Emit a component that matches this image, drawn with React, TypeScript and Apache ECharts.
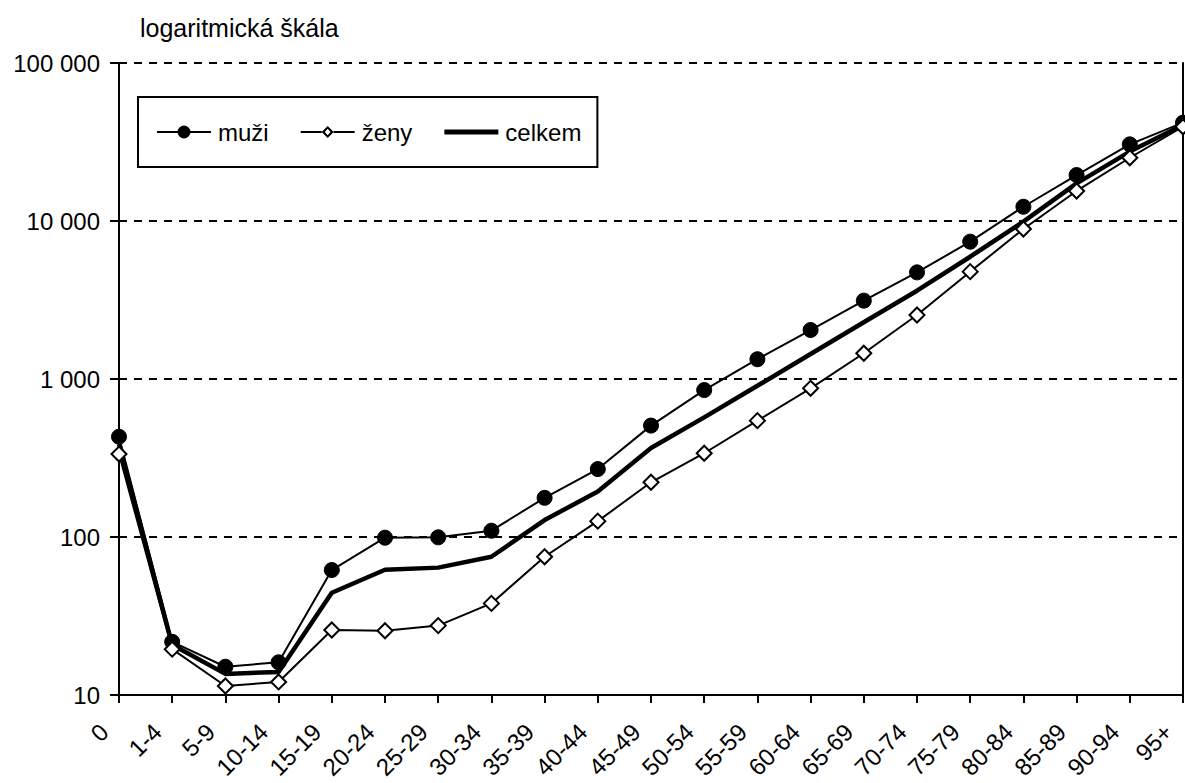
import React, { useEffect, useRef } from "react";
import * as echarts from "echarts";

const categories = ["0", "1-4", "5-9", "10-14", "15-19", "20-24", "25-29", "30-34", "35-39", "40-44", "45-49", "50-54", "55-59", "60-64", "65-69", "70-74", "75-79", "80-84", "85-89", "90-94", "95+"];
const muzi = [431, 21.7, 15.1, 16.1, 61.8, 99, 99.5, 109.6, 177, 269, 507, 851, 1334, 2042, 3133, 4730, 7400, 12310, 19540, 30550, 41900];
const zeny = [335, 19.5, 11.4, 12.1, 25.8, 25.5, 27.5, 38, 75, 126, 222, 339, 545, 873, 1455, 2540, 4780, 8900, 15490, 25140, 39500];
const celkem = [385, 20.8, 13.6, 14.0, 44.4, 62, 64, 75, 128, 194, 366, 572, 906, 1439, 2285, 3620, 5940, 9900, 17300, 27500, 40500];
const seriesNames = ["muži", "ženy", "celkem"];
const titleText = "logaritmická škála";

const FONT = '"Liberation Sans", Arial, sans-serif';

const ICON_MUZI =
  "path://M0,6 L21,6 L21,8 L0,8 Z M33,6 L54,6 L54,8 L33,8 Z M27,0.5 A6.5,6.5 0 1,1 27,13.5 A6.5,6.5 0 1,1 27,0.5 Z";
const ICON_ZENY =
  "path://M0,6 L21,6 L21,8 L0,8 Z M33,6 L54,6 L54,8 L33,8 Z M27,1 L33,7 L27,13 L21,7 Z M27,3.8 L24.2,7 L27,10.2 L29.8,7 Z";
const ICON_CELKEM = "path://M0,4.5 L54,4.5 L54,9.5 L0,9.5 Z";

function fmt(v: number) {
  return String(Math.round(v)).replace(/\B(?=(\d{3})+(?!\d))/g, " ");
}

export default function App() {
  const ref = useRef<HTMLDivElement>(null);
  useEffect(() => {
    if (!ref.current) return;
    const chart = echarts.init(ref.current, null, { renderer: "svg" });
    const legendItemStyle = { color: "#000", borderWidth: 0 };
    chart.setOption({
      animation: false,
      backgroundColor: "#fff",
      title: {
        text: titleText,
        left: 140,
        top: 15,
        padding: 0,
        textStyle: { fontFamily: FONT, fontSize: 25, fontWeight: "normal", color: "#000" },
      },
      legend: {
        left: 138,
        top: 97,
        orient: "horizontal",
        padding: [23, 16, 23, 19],
        itemGap: 32,
        itemWidth: 54,
        itemHeight: 14,
        symbolKeepAspect: true,
        borderColor: "#000",
        borderWidth: 2,
        backgroundColor: "#fff",
        textStyle: { fontFamily: FONT, fontSize: 24, color: "#000", padding: [0, 0, 0, 2] },
        data: [
          { name: seriesNames[0], icon: ICON_MUZI, itemStyle: legendItemStyle },
          { name: seriesNames[1], icon: ICON_ZENY, itemStyle: legendItemStyle },
          { name: seriesNames[2], icon: ICON_CELKEM, itemStyle: legendItemStyle },
        ],
      },
      grid: { left: 119, right: 2, top: 63, bottom: 88, containLabel: false, outerBoundsMode: "none" },
      xAxis: {
        type: "category",
        data: categories,
        boundaryGap: false,
        axisLine: { lineStyle: { color: "#000", width: 2 } },
        axisTick: { show: true, length: 8, lineStyle: { color: "#000", width: 2 }, interval: 0 },
        axisLabel: {
          interval: 0,
          rotate: 45,
          margin: 18,
          padding: [0, 21, 0, 0],
          fontFamily: FONT,
          fontSize: 24,
          color: "#000",
        },
        splitLine: { show: false },
      },
      yAxis: [
        {
          type: "log",
          logBase: 10,
          min: 10,
          max: 100000,
          axisLine: { show: true, lineStyle: { color: "#000", width: 2 } },
          axisTick: { show: true, length: 9, lineStyle: { color: "#000", width: 2 } },
          axisLabel: {
            formatter: (v: number) => fmt(v),
            margin: 19,
            fontFamily: FONT,
            fontSize: 24,
            color: "#000",
          },
          splitLine: { show: true, lineStyle: { color: "#000", width: 2.2, type: [8, 7] } },
        },
        {
          type: "log",
          logBase: 10,
          min: 10,
          max: 100000,
          position: "right",
          axisLine: { show: true, lineStyle: { color: "#000", width: 2 } },
          axisTick: { show: false },
          axisLabel: { show: false },
          splitLine: { show: false },
        },
      ],
      series: [
        {
          name: seriesNames[0],
          type: "line",
          data: muzi,
          symbol: "circle",
          symbolSize: 15,
          itemStyle: { color: "#000", borderColor: "#000" },
          lineStyle: { color: "#000", width: 2 },
          z: 3,
        },
        {
          name: seriesNames[1],
          type: "line",
          data: zeny,
          symbol: "diamond",
          symbolSize: 15,
          itemStyle: { color: "#fff", borderColor: "#000", borderWidth: 2 },
          lineStyle: { color: "#000", width: 2 },
          z: 4,
        },
        {
          name: seriesNames[2],
          type: "line",
          data: celkem,
          symbol: "none",
          itemStyle: { color: "#000" },
          lineStyle: { color: "#000", width: 4.5 },
          z: 2,
        },
      ],
    });
    return () => chart.dispose();
  }, []);
  return <div ref={ref} style={{ position: "absolute", left: 0, top: 0, width: 1185, height: 783 }} />;
}
